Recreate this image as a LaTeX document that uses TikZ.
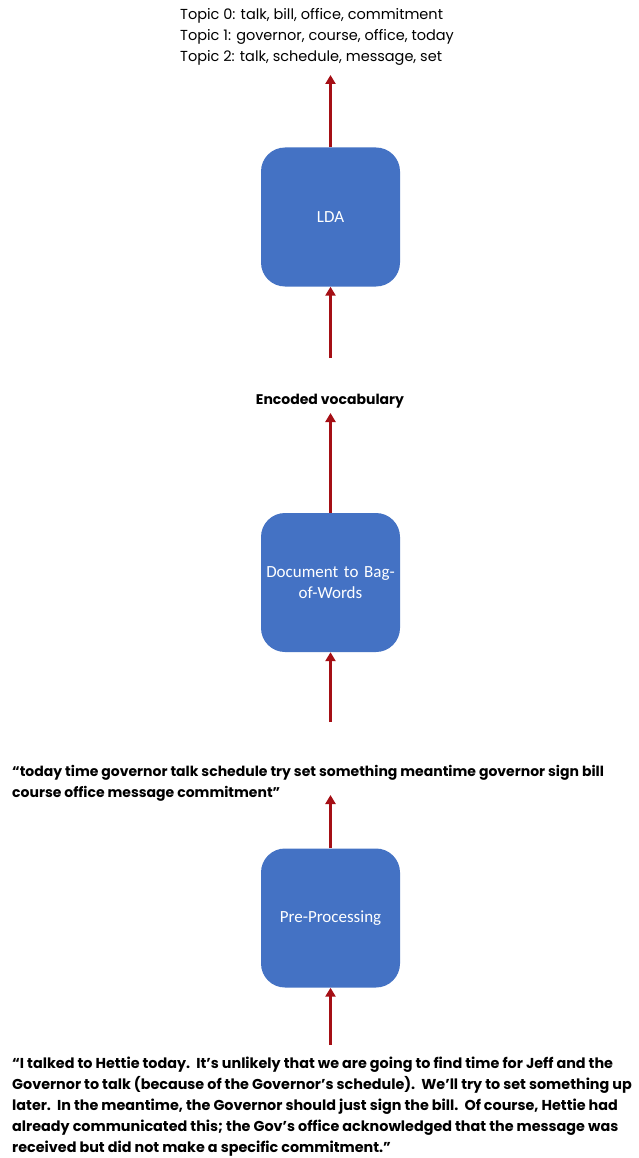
\documentclass[tikz,border=0pt]{standalone}
\usepackage{fontspec}
\usetikzlibrary{arrows.meta}
\setmainfont{Poppins}
\newfontfamily\boxfont{Carlito}
\definecolor{boxblue}{HTML}{4472C4}
\definecolor{arrred}{HTML}{A50F15}
\begin{document}
\begin{tikzpicture}[x=1pt,y=-1pt,
  stage/.style={draw=none,fill=boxblue,rounded corners=24pt,minimum width=139pt,minimum height=139pt,text=white,font=\boxfont\fontsize{17}{21}\selectfont,align=center,text width=135pt,inner sep=0pt},
  flow/.style={draw=arrred,line width=2.4pt,-{Triangle[length=9pt,width=10pt]}},
  plain/.style={font=\fontsize{14.5}{21}\selectfont,align=left,inner sep=0pt},
  quote/.style={font=\bfseries\fontsize{14}{21}\selectfont,align=left,inner sep=0pt},
  rawquote/.style={font=\bfseries\fontsize{14.35}{21}\selectfont,align=left,inner sep=0pt}
]
\useasboundingbox (0,0) rectangle (638,1158);
\fill[white] (0,0) rectangle (638,1158);
\node[stage] (lda) at (330.5,217) {LDA};
\node[stage] (bow) at (330.5,582.5) {Document to Bag-\\of-Words};
\node[stage] (pre) at (330.5,918) {Pre-Processing};
\node[plain,anchor=north west] (topics) at (180,8) {Topic 0: talk, bill, office, commitment\\Topic 1: governor, course, office, today\\Topic 2: talk, schedule, message, set};
\node[quote] (vocab) at (330,401) {Encoded vocabulary};
\node[quote,anchor=north west] (bag) at (12,765) {“today time governor talk schedule try set something meantime governor sign bill\\course office message commitment”};
\node[rawquote,anchor=north west] (raw) at (12,1057) {“I talked to Hettie today.\ \ It's unlikely that we are going to find time for Jeff and the\\Governor to talk (because of the Governor's schedule).\ \ We'll try to set something up\\later.\ \ In the meantime, the Governor should just sign the bill.\ \ Of course, Hettie had\\already communicated this; the Gov's office acknowledged that the message was\\received but did not make a specific commitment.”};
\coordinate (c1) at (330.5,358);
\coordinate (c2) at (330.5,75);
\coordinate (c3) at (330.5,722);
\coordinate (c4) at (330.5,413);
\coordinate (c5) at (330.5,1045);
\coordinate (c6) at (330.5,795);
\draw[flow] (c1) -- (lda.south);
\draw[flow] (lda.north) -- (c2);
\draw[flow] (c3) -- (bow.south);
\draw[flow] (bow.north) -- (c4);
\draw[flow] (c5) -- (pre.south);
\draw[flow] (pre.north) -- (c6);
\end{tikzpicture}
\end{document}
